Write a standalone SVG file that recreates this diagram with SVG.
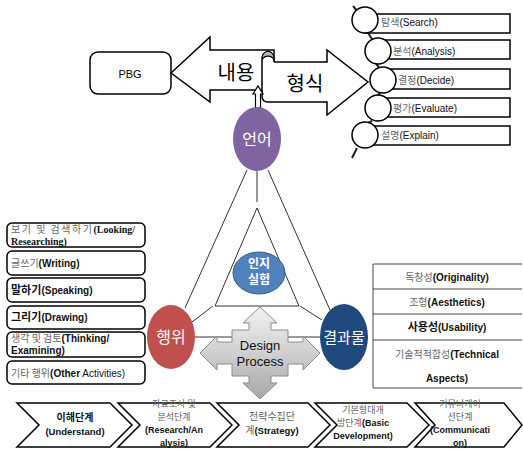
<svg xmlns="http://www.w3.org/2000/svg" width="523" height="450" viewBox="0 0 523 450">
<defs>
<style>
.ko{font-family:"Noto Sans CJK KR","Noto Sans",sans-serif}
.en{font-family:"Liberation Sans","Noto Sans",sans-serif}
.gk{fill:#666}
.bk{fill:#111}
.b{font-weight:bold}
.box{fill:#fff;stroke:#000;stroke-width:1.5}
.ln{stroke:#333;stroke-width:1;fill:none}
.wt{fill:#fff;font-family:"Noto Sans CJK KR",sans-serif;text-anchor:middle}
.st{font-size:10px}
.chev{fill:#fff;stroke:#000;stroke-width:1.5}
.c{text-anchor:middle}
.cv{font-size:9px}
</style>
<linearGradient id="gr" x1="0" y1="0" x2="0" y2="1">
<stop offset="0" stop-color="#f2f2f2"/>
<stop offset="0.5" stop-color="#d0d0d0"/>
<stop offset="1" stop-color="#a6a6a6"/>
</linearGradient>
</defs>
<rect width="523" height="450" fill="#fff"/>

<g id="connectors">
<line class="ln" x1="247" y1="170" x2="185" y2="308"/>
<line class="ln" x1="268" y1="170" x2="330" y2="310"/>
<line class="ln" x1="257" y1="171" x2="257" y2="202"/>
<polygon class="ln" points="257,208 215,306 299,306"/>
<line class="ln" x1="213" y1="306" x2="192" y2="322"/>
<line class="ln" x1="300" y1="306" x2="322" y2="320"/>
<line class="ln" x1="194" y1="337" x2="322" y2="337"/>
<path d="M353,6 L358,12 M368,33 L372,39 M376,64 L379,67 M380,93 L378,95 M372,121 L368,123 M357,148 L352,158" stroke="#222" stroke-width="2" fill="none"/>
</g>

<g id="pbg">
<rect x="90" y="52" width="81" height="42" rx="8" class="box"/>
<text x="130" y="78" class="en c" font-size="11">PBG</text>
</g>

<g id="naeyong">
<polygon points="171,73 210,37 210,50 274,50 274,90 210,90 210,102" fill="#fff" stroke="#000" stroke-width="1.5"/>
<text x="236" y="80" class="ko c" font-size="20">내용</text>
</g>

<g id="hyeongsik">
<path d="M274,62 L327,62 L327,50 L368,82 L327,115 L327,102 L268,102 Q262,102 262,96 L262,60" fill="#fff" stroke="#000" stroke-width="1.5"/>
<path d="M262,60 A6,7 0 0 1 274,57 L274,62 A5,4 0 0 0 262,60 Z" fill="#bbb" stroke="#000" stroke-width="1.2"/>
<text x="305" y="91" class="ko c" font-size="20">형식</text>
</g>

<g id="uparrow">
<path d="M255.5,108 L255.5,94 L253,94 L258,86 L263,94 L260.5,94 L260.5,108 Z" fill="#fff" stroke="#000" stroke-width="1.2"/>
</g>

<g id="steps">
<rect x="365" y="14" width="145" height="19" class="box"/>
<circle cx="365" cy="20" r="13" class="box"/>
<text x="381" y="26" class="st"><tspan class="ko gk">탐색</tspan><tspan class="en bk">(Search)</tspan></text>
<rect x="378" y="40" width="132" height="19" class="box"/>
<circle cx="378" cy="51" r="13" class="box"/>
<text x="393" y="55" class="st"><tspan class="ko gk">분석</tspan><tspan class="en bk">(Analysis)</tspan></text>
<rect x="383" y="69" width="127" height="20" class="box"/>
<circle cx="383" cy="80" r="13" class="box"/>
<text x="398" y="84" class="st"><tspan class="ko gk">결정</tspan><tspan class="en bk">(Decide)</tspan></text>
<rect x="378" y="98" width="132" height="19" class="box"/>
<circle cx="378" cy="108" r="13" class="box"/>
<text x="393" y="112" class="st"><tspan class="ko gk">평가</tspan><tspan class="en bk">(Evaluate)</tspan></text>
<rect x="365" y="126" width="145" height="19" class="box"/>
<circle cx="365" cy="135" r="13" class="box"/>
<text x="381" y="139" class="st"><tspan class="ko gk">설명</tspan><tspan class="en bk">(Explain)</tspan></text>
</g>

<g id="eoneo">
<ellipse cx="257" cy="139" rx="24" ry="32" fill="#8064A2"/>
<text x="257" y="145" class="wt" font-size="16">언어</text>
</g>

<g id="inji">
<ellipse cx="259" cy="273" rx="26" ry="21" fill="#4F81BD" stroke="#385D8A" stroke-width="1"/>
<text x="259" y="268" class="wt b" font-size="12">인지</text>
<text x="259" y="284" class="wt b" font-size="12">실험</text>
</g>

<g id="haengwi">
<ellipse cx="171" cy="337" rx="24" ry="32" fill="#C0504D"/>
<text x="171" y="343" class="wt" font-size="16">행위</text>
</g>

<g id="gyeolgwamul">
<ellipse cx="344" cy="337" rx="24" ry="33" fill="#1F497D"/>
<text x="344" y="343" class="wt" font-size="15">결과물</text>
</g>

<g id="design">
<path d="M260,307 L277,323 L271,323 L271,330 L288,330 L288,342 L303,342 L303,336 L320,353 L303,370 L303,364 L288,364 L288,376 L271,376 L271,383 L277,383 L260,399 L243,383 L249,383 L249,376 L232,376 L232,364 L217,364 L217,370 L200,353 L217,336 L217,342 L232,342 L232,330 L249,330 L249,323 L243,323 Z" fill="url(#gr)" stroke="#8c8c8c" stroke-width="1"/>
<text x="260" y="350" class="en c" font-size="13" fill="#111">Design</text>
<text x="260" y="366" class="en c" font-size="13" fill="#111">Process</text>
</g>

<g id="actions">
<rect x="7" y="223" width="138" height="24" rx="5" class="box"/>
<text x="11" y="233" font-size="10"><tspan class="ko gk" letter-spacing="1.5">보기 및 검색하기</tspan><tspan font-family="Liberation Serif,serif" class="b bk">(Looking/</tspan></text>
<text x="11" y="245" font-size="10" font-family="Liberation Serif,serif" class="b bk">Researching)</text>
<rect x="7" y="251" width="138" height="24" rx="5" class="box"/>
<text x="11" y="267" font-size="10"><tspan class="ko gk">글쓰기</tspan><tspan class="en b bk">(Writing)</tspan></text>
<rect x="7" y="278" width="138" height="24" rx="5" class="box"/>
<text x="11" y="294" font-size="10"><tspan class="ko b bk" font-size="11">말하기</tspan><tspan class="en b bk">(Speaking)</tspan></text>
<rect x="7" y="306" width="138" height="23" rx="5" class="box"/>
<text x="11" y="321" font-size="10"><tspan class="ko b bk" font-size="11">그리기</tspan><tspan class="en b bk">(Drawing)</tspan></text>
<rect x="7" y="332" width="138" height="25" rx="5" class="box"/>
<text x="11" y="342" font-size="10"><tspan class="ko gk">생각 및 검토</tspan><tspan class="en b bk">(Thinking/</tspan></text>
<text x="11" y="354" font-size="10" class="en b bk">Examining)</text>
<rect x="7" y="361" width="138" height="23" rx="5" class="box"/>
<text x="11" y="377" font-size="10"><tspan class="ko gk">기타 행위</tspan><tspan class="en bk"><tspan class="b">(Other</tspan> Activities)</tspan></text>
</g>

<g id="criteria">
<path d="M522,264 L373,264 L373,388 L522,388 M373,289 L522,289 M373,314 L522,314 M373,340 L522,340" fill="none" stroke="#444" stroke-width="1"/>
<text x="447" y="281" class="c" font-size="10"><tspan class="ko gk">독창성</tspan><tspan class="en b bk">(Originality)</tspan></text>
<text x="447" y="306" class="c" font-size="10"><tspan class="ko gk">조형</tspan><tspan class="en b bk">(Aesthetics)</tspan></text>
<text x="447" y="331" class="c" font-size="10"><tspan class="ko b bk" font-size="11">사용성</tspan><tspan class="en b bk">(Usability)</tspan></text>
<text x="447" y="358" class="c" font-size="10"><tspan class="ko gk">기술적적합성</tspan><tspan class="en b bk">(Technical</tspan></text>
<text x="447" y="382" class="c en b bk" font-size="10">Aspects)</text>
</g>

<g id="stage1">
<polygon class="chev" points="17,403 110,403 132,425 110,447 17,447 39,425"/>
<text x="75" y="421" class="c ko b bk" font-size="10">이해단계</text>
<text x="75" y="435" class="c en b bk" font-size="9.5">(Understand)</text>
</g>
<g id="stage2">
<polygon class="chev" points="118,403 210,403 232,425 210,447 118,447 140,425"/>
<text x="174" y="407" class="c ko gk cv">자료조사 및</text>
<text x="174" y="420" class="c ko gk cv">분석단계</text>
<text x="174" y="433" class="c en b bk cv">(Research/An</text>
<text x="174" y="446" class="c en b bk cv">alysis)</text>
</g>
<g id="stage3">
<polygon class="chev" points="217,403 308,403 330,425 308,447 217,447 239,425"/>
<text x="272" y="420" class="c ko gk" font-size="10">전략수집단</text>
<text x="272" y="434" class="c" font-size="10"><tspan class="ko gk">계</tspan><tspan class="en b bk" font-size="9.5">(Strategy)</tspan></text>
</g>
<g id="stage4">
<polygon class="chev" points="315,403 407,403 429,425 407,447 315,447 337,425"/>
<text x="363" y="413" class="c ko gk cv">기본형대개</text>
<text x="363" y="426" class="c cv"><tspan class="ko gk">발단계</tspan><tspan class="en b bk">(Basic</tspan></text>
<text x="363" y="439" class="c en b bk cv">Development)</text>
</g>
<g id="stage5">
<polygon class="chev" points="415,403 504,403 522,425 504,447 415,447 435,425"/>
<text x="460" y="407" class="c ko gk cv">커뮤니케이</text>
<text x="460" y="420" class="c ko gk cv">션단계</text>
<text x="460" y="433" class="c en b bk cv">(Communicati</text>
<text x="460" y="446" class="c en b bk cv">on)</text>
</g>
</svg>
